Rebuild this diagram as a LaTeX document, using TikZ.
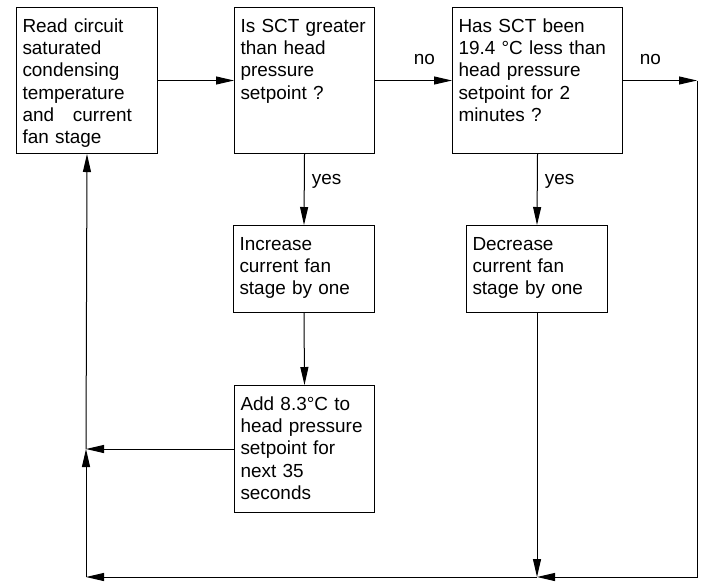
\documentclass[tikz,border=0pt]{standalone}
\usepackage{fontspec}
\setmainfont{Liberation Sans}
\usepackage{tikz}
\usetikzlibrary{arrows.meta}

\begin{document}
\begin{tikzpicture}[
  x=0.75pt, y=-0.75pt,
  >={Triangle[length=13.5pt,width=6pt]},
  box/.style={draw, line width=0.75pt, anchor=north west, align=left,
    inner xsep=4.5pt, inner ysep=7.5pt, text height=11pt,
    font=\fontsize{14.2}{16.75}\selectfont},
  decision/.style={box, text depth=83.5pt},
  action/.style={box, text depth=39.25pt},
  arr/.style={->, line width=0.75pt},
  lbl/.style={font=\fontsize{14.2}{16.75}\selectfont}
]
\useasboundingbox (0,0) rectangle (702,583);
\node[decision, text width=96.75pt] (read) at (16,7)
  {Read circuit\\saturated\\condensing\\temperature\\and\ \ \ current\\fan stage};
\node[decision, text width=96pt] (sct) at (234,7)
  {Is SCT greater\\than head\\pressure\\setpoint ?};
\node[decision, text width=118.5pt] (has) at (452,7)
  {Has SCT been\\19.4 °C less than\\head pressure\\setpoint for 2\\minutes ?};
\node[action, text width=96.75pt] (inc) at (233,225)
  {Increase\\current fan\\stage by one};
\node[action, text width=96.75pt] (dec) at (466,225)
  {Decrease\\current fan\\stage by one};
\node[box, text width=96pt, text depth=69.25pt] (add) at (234,385)
  {Add 8.3°C to\\head pressure\\setpoint for\\next 35\\seconds};
\coordinate (sw) at (86,577);
\coordinate (se) at (697,577);
\coordinate (ne) at (se |- has.east);
\coordinate (bm) at (dec.south |- sw);
\coordinate (lm) at (sw |- add.west);
\draw[arr] (read.east) -- (sct.west);
\draw[arr] (sct.east) -- node[lbl, above=8pt, pos=0.64] {no} (has.west);
\draw[arr] (has.east) -- node[lbl, above=8pt, pos=0.37] {no} (ne);
\draw[arr] (sct.south) -- node[lbl, right=2pt, pos=0.38] {yes} (inc.north);
\draw[arr] (has.south) -- node[lbl, right=2pt, pos=0.38] {yes} (dec.north);
\draw[arr] (inc.south) -- (add.north);
\draw[arr] (dec.south) -- (bm);
\draw[arr] (ne) -- (se) -- (bm);
\draw[arr] (bm) -- (sw);
\draw[arr] (sw) -- (lm);
\draw[arr] (add.west) -- (lm);
\draw[arr] (lm) -- (read.south);
\end{tikzpicture}
\end{document}
